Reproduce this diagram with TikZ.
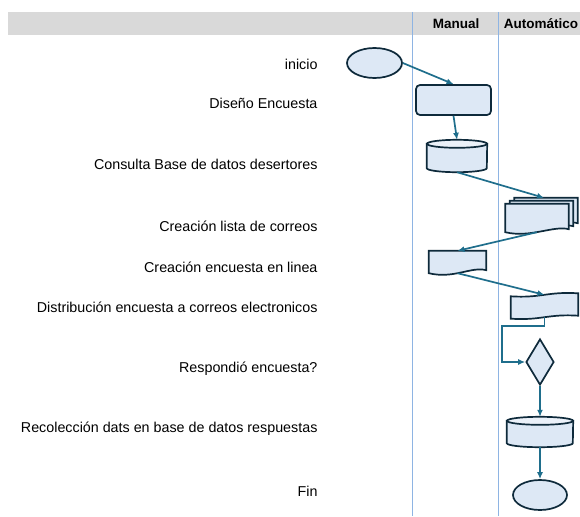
\documentclass[tikz,border=0pt]{standalone}
\usepackage{fontspec}
\setmainfont{Liberation Sans}
\usetikzlibrary{arrows.meta,calc,shapes.geometric}

\definecolor{shapefill}{HTML}{DDE8F5}
\definecolor{shapeedge}{HTML}{0E2A3B}
\definecolor{flowblue}{HTML}{1F6E8C}
\definecolor{laneblue}{HTML}{8EB4E3}
\definecolor{headgray}{HTML}{D9D9D9}

% wavy document outline on top of a (hidden) node, #1 = offset
\newcommand{\docoutline}[2][(0,0)]{%
  \filldraw[box] ($(#2.north west)+#1$) -- ($(#2.north east)+#1$) -- ($(#2.south east)+(0,-3)+#1$)
    .. controls +(-15,-4) and +(25,6) .. ($(#2.south west)+#1$) -- cycle;}
% drum (database) outline, #2 = half width
\newcommand{\drumoutline}[2]{%
  \filldraw[box] ($(#1.north west)+(0,4)$) -- ($(#1.south west)+(0,-4)$)
    arc[start angle=180,end angle=0,x radius=#2,y radius=4]
    -- ($(#1.north east)+(0,4)$) -- cycle;
  \filldraw[box,fill=shapefill!60] ($(#1.north)+(0,4)$) ellipse[x radius=#2,y radius=4];}

\begin{document}
\begin{tikzpicture}[x=1pt, y=-1pt, >={Latex[length=7pt,width=6pt]},
                    box/.style={draw=shapeedge, fill=shapefill, line width=1.7pt},
                    shp/.style={box, inner sep=0pt},
                    ghost/.style={rectangle, inner sep=0pt},
                    flow/.style={->, draw=flowblue, line width=1.7pt},
                    lbl/.style={anchor=east, font=\fontsize{14.3}{16}\selectfont},
                    head/.style={font=\bfseries\fontsize{13.5}{16}\selectfont},
                    lane/.style={draw=laneblue, line width=0.9pt}]
\useasboundingbox (0,0) rectangle (580,516);

% header and swim lanes
\fill[headgray] (8,12) rectangle (580,35);
\node[head] (manual) at (456,24) {Manual};
\node[head] (auto)   at (541,24) {Automático};
\draw[lane] (412,12) -- (412,516);
\draw[lane] (498,12) -- (498,516);

% step labels
\node[lbl] (t1) at (321,64)  {inicio};
\node[lbl] (t2) at (321,103) {Diseño Encuesta};
\node[lbl] (t3) at (321,164) {Consulta Base de datos desertores};
\node[lbl] (t4) at (321,226) {Creación lista de correos};
\node[lbl] (t5) at (321,267) {Creación encuesta en linea};
\node[lbl] (t6) at (321,307) {Distribución encuesta a correos electronicos};
\node[lbl] (t7) at (321,369) {Respondió encuesta?};
\node[lbl] (t8) at (321,429) {Recolección dats en base de datos respuestas};
\node[lbl] (t9) at (321,491) {Fin};

% flow symbols
\node[shp,ellipse,minimum width=55,minimum height=30] (start) at (374.5,63) {};
\node[shp,rectangle,rounded corners=4pt,minimum width=75,minimum height=30] (design) at (453.5,100) {};
\node[ghost,minimum width=60,minimum height=32] (query) at (457,156) {};
\drumoutline{query}{30}
\node[ghost,minimum width=63,minimum height=28] (clist) at (537,218) {};
\docoutline[(9,-6)]{clist}
\docoutline[(4.5,-3)]{clist}
\docoutline{clist}
\coordinate (clisttop) at ($(clist.north)+(7,-6)$);
\node[ghost,minimum width=57,minimum height=22] (online) at (457.5,262) {};
\docoutline{online}
\node[ghost,minimum width=67,minimum height=22] (dist) at (544.5,306) {};
\filldraw[box] ($(dist.north west)+(0,1.5)$) .. controls +(30,2) and +(-30,-2) .. ($(dist.north east)+(0,-1.5)$)
      -- ($(dist.south east)+(0,-1.5)$) .. controls +(-30,-2) and +(30,2) .. ($(dist.south west)+(0,1.5)$) -- cycle;
\node[shp,diamond,minimum width=28,minimum height=46] (answer) at (540,362) {};
\node[ghost,minimum width=66,minimum height=30] (collect) at (540,432) {};
\drumoutline{collect}{33}
\node[shp,ellipse,minimum width=54,minimum height=30] (stop) at (540,495) {};
\coordinate (loop) at (502,326);

% connectors
\draw[flow] (start.east) -- (design.north);
\draw[flow] (design.south) -- (query.north);
\draw[flow] (query.south) -- (clisttop);
\draw[flow] (clist.south) -- (online.north);
\draw[flow] (online.south) -- (dist.north);
\draw[flow] (dist.south) |- (loop) |- (answer.west);
\draw[flow] (answer.south) -- (collect.north);
\draw[flow] (collect.south) -- (stop.north);

\end{tikzpicture}
\end{document}
